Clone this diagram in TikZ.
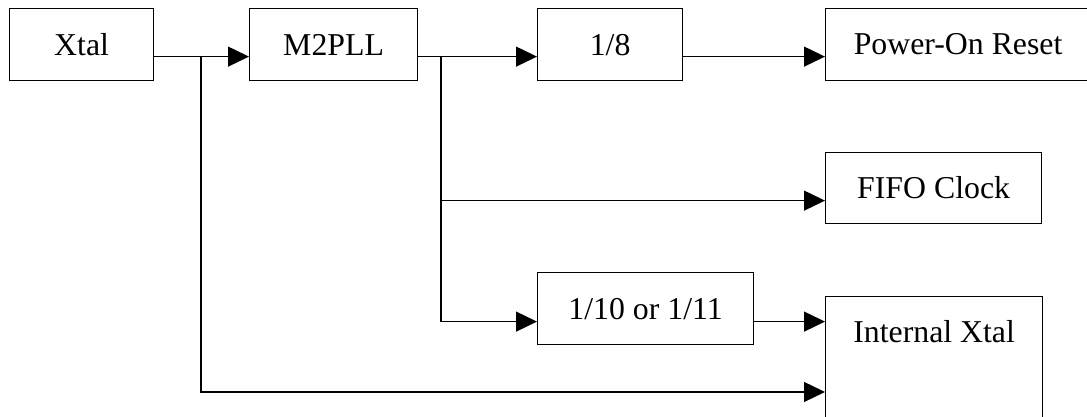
\documentclass[tikz,border=0pt]{standalone}
\usepackage{fontspec}
\setmainfont{Liberation Serif}
\usetikzlibrary{arrows.meta}
\tikzset{
	blok/.style={draw, line width=0.7pt, anchor=north west, inner sep=0pt,
		minimum height=1.44cm, font=\fontsize{18.1}{20}\selectfont},
	strelka/.style={-{Triangle[length=0.42cm, width=0.4cm]}, line width=0.7pt}
}
\begin{document}
\begin{tikzpicture}[x=0.02cm, y=-0.02cm]
			% Рамка рисунка
			\useasboundingbox (0,0) rectangle (1087,416);
			% Блоки
			\node[blok, minimum width=2.88cm] (xtal) at (9,8) {Xtal};
			\node[blok, minimum width=3.36cm] (pll) at (249,8) {M2PLL};
			\node[blok, minimum width=2.9cm] (div8) at (537,8) {1/8};
			\node[blok, minimum width=5.3cm] (por) at (825,8) {Power-On Reset};
			\node[blok, minimum width=4.32cm, minimum height=1.42cm] (fifo) at (825,152) {FIFO Clock};
			\node[blok, minimum width=4.32cm] (div10) at (537,272) {1/10 or 1/11};
			\node[blok, minimum width=4.34cm, text height=26pt, text depth=55pt] (intx) at (825,296) {Internal Xtal};
			% Точки ветвления
			\coordinate (v1) at (201,56);
			\coordinate (v2) at (441,56);
			% Связи
			\draw[strelka] ([yshift=-0.24cm]xtal.east) -- ([yshift=-0.24cm]pll.west);
			\draw[strelka] ([yshift=-0.24cm]pll.east) -- ([yshift=-0.24cm]div8.west);
			\draw[strelka] ([yshift=-0.24cm]div8.east) -- ([yshift=-0.24cm]por.west);
			\draw[strelka] (v2) |- ([yshift=-0.26cm]div10.west);
			\draw[strelka] ([yshift=-0.25cm]fifo.west -| v2) -- ([yshift=-0.25cm]fifo.west);
			\draw[strelka] ([yshift=-0.26cm]div10.east) -- ([yshift=-0.26cm]div10.east -| intx.west);
			\draw[strelka] (v1) |- ([yshift=-1.92cm]intx.north west);
\end{tikzpicture}
\end{document}
